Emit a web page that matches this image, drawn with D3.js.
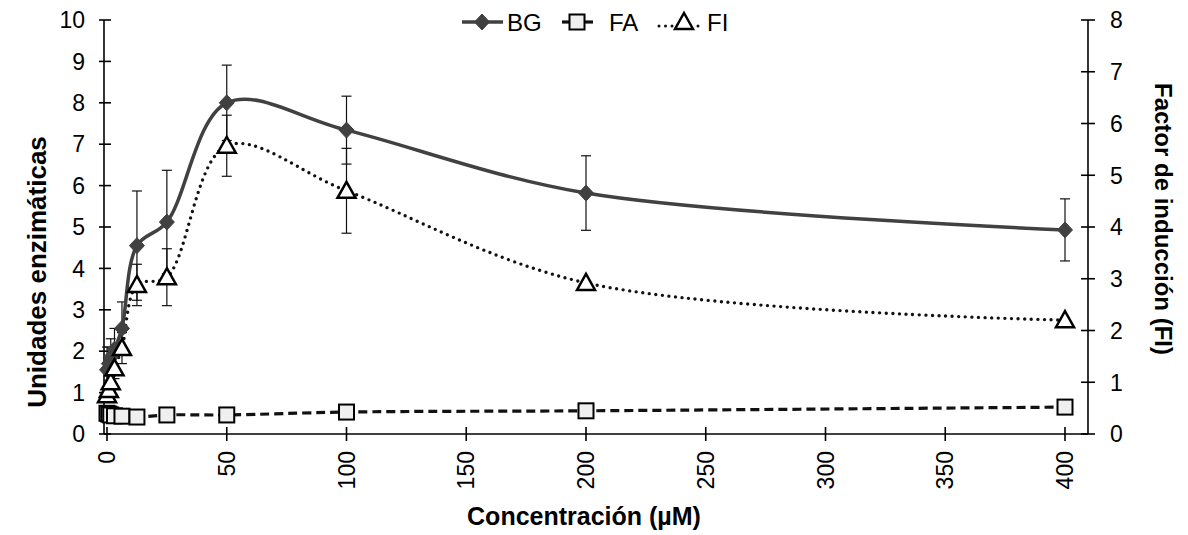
<!DOCTYPE html>
<html>
<head>
<meta charset="utf-8">
<script src="https://cdn.jsdelivr.net/npm/d3@7"></script>
<style>
  html, body { margin: 0; padding: 0; background: #fff; }
  svg { display: block; font-family: "Liberation Sans", Arial, sans-serif; }
</style>
</head>
<body>
<svg id="chart" width="1188" height="535"></svg>
<script>
// ---- data ----
const conc   = [0, 0.78, 1.56, 3.125, 6.25, 12.5, 25, 50, 100, 200, 400];
const bg     = [1.55, 1.7, 1.85, 2.05, 2.55, 4.55, 5.12, 8.0, 7.34, 5.82, 4.93];
const bgErr  = [0.55, 0.4, 0.45, 0.5, 0.64, 1.32, 1.25, 0.91, 0.82, 0.9, 0.75];
const fa     = [0.5, 0.48, 0.46, 0.44, 0.43, 0.41, 0.46, 0.46, 0.53, 0.56, 0.65];
const fi     = [0.75, 0.85, 1.0, 1.27, 1.66, 2.88, 3.03, 5.57, 4.7, 2.92, 2.2];
const fiErr  = [0.08, 0.1, 0.15, 0.2, 0.3, 0.4, 0.55, 0.59, 0.82, 0.04, 0.04];
const xTicks = [0, 50, 100, 150, 200, 250, 300, 350, 400];
const yLeftTicks  = [0,1,2,3,4,5,6,7,8,9,10];
const yRightTicks = [0,1,2,3,4,5,6,7,8];
const seriesNames = ["BG", "FA", "FI"];
const xTitle = "Concentración (µM)";
const yLeftTitle = "Unidades enzimáticas";
const yRightTitle = "Factor de inducción (FI)";

const svg = d3.select("#chart");
const axisLeftX = 104, axisRightX = 1088, axisBottomY = 434, axisTopY = 20;

const x = d3.scaleLinear().domain([0, 400]).range([107, 1065]);
const yL = d3.scaleLinear().domain([0, 10]).range([axisBottomY, axisTopY]);
const yR = d3.scaleLinear().domain([0, 8]).range([axisBottomY, axisTopY]);

const tickFont = 23, legendFont = 24;

// ---- axes ----
const ax = svg.append("g").attr("stroke", "#000").attr("stroke-width", 1.6);
ax.append("line").attr("x1", axisLeftX).attr("x2", axisRightX).attr("y1", axisBottomY).attr("y2", axisBottomY);
ax.append("line").attr("x1", axisLeftX).attr("x2", axisLeftX).attr("y1", axisTopY).attr("y2", axisBottomY);
ax.append("line").attr("x1", axisRightX).attr("x2", axisRightX).attr("y1", axisTopY).attr("y2", axisBottomY);

xTicks.forEach(t => {
  ax.append("line").attr("x1", x(t)).attr("x2", x(t)).attr("y1", axisBottomY - 7).attr("y2", axisBottomY + 7);
  svg.append("text")
    .attr("transform", `translate(${x(t)},451) rotate(-90)`)
    .attr("text-anchor", "end").attr("dy", "0.35em")
    .attr("font-size", tickFont).attr("fill", "#000").text(t);
});
yLeftTicks.forEach(t => {
  ax.append("line").attr("x1", axisLeftX - 5).attr("x2", axisLeftX + 7).attr("y1", yL(t)).attr("y2", yL(t));
  svg.append("text").attr("x", 85).attr("y", yL(t)).attr("dy", "0.36em")
    .attr("text-anchor", "end").attr("font-size", tickFont).text(t);
});
yRightTicks.forEach(t => {
  ax.append("line").attr("x1", axisRightX - 7).attr("x2", axisRightX + 7).attr("y1", yR(t)).attr("y2", yR(t));
  svg.append("text").attr("x", 1110).attr("y", yR(t)).attr("dy", "0.36em")
    .attr("text-anchor", "start").attr("font-size", tickFont).text(t);
});

// titles
svg.append("text").attr("x", 584).attr("y", 525).attr("text-anchor", "middle")
  .attr("font-size", 25).attr("font-weight", "bold").text(xTitle);
svg.append("text").attr("transform", "translate(46,272) rotate(-90)").attr("text-anchor", "middle")
  .attr("font-size", 26).attr("font-weight", "bold").text(yLeftTitle);
svg.append("text").attr("transform", "translate(1155,219) rotate(90)").attr("text-anchor", "middle")
  .attr("font-size", 24).attr("font-weight", "bold").text(yRightTitle);

// ---- series data ----
const bgPts = conc.map((c, i) => ({ x: c, y: bg[i], e: bgErr[i] }));
const faPts = conc.map((c, i) => ({ x: c, y: fa[i] }));
const fiPts = conc.map((c, i) => ({ x: c, y: fi[i], e: fiErr[i] }));

// error bars
function errBars(pts, ys) {
  const g = svg.append("g").attr("stroke", "#111").attr("stroke-width", 1.2);
  pts.forEach(p => {
    const y1 = ys(p.y + p.e), y2 = ys(p.y - p.e), cx = x(p.x);
    g.append("line").attr("x1", cx).attr("x2", cx).attr("y1", y1).attr("y2", y2);
    g.append("line").attr("x1", cx - 5).attr("x2", cx + 5).attr("y1", y1).attr("y2", y1);
    g.append("line").attr("x1", cx - 5).attr("x2", cx + 5).attr("y1", y2).attr("y2", y2);
  });
}
errBars(bgPts, yL);
errBars(fiPts, yR);

// lines
const curve = d3.curveCatmullRom.alpha(0.5);
const lineL = d3.line().x(d => x(d.x)).y(d => yL(d.y)).curve(curve);
const lineR = d3.line().x(d => x(d.x)).y(d => yR(d.y)).curve(curve);

svg.append("path").datum(bgPts).attr("d", lineL).attr("fill", "none")
  .attr("stroke", "#414141").attr("stroke-width", 3.5);
svg.append("path").datum(faPts).attr("d", lineL).attr("fill", "none")
  .attr("stroke", "#111").attr("stroke-width", 3.2).attr("stroke-dasharray", "9,5");
svg.append("path").datum(fiPts).attr("d", lineR).attr("fill", "none")
  .attr("stroke", "#111").attr("stroke-width", 3.4).attr("stroke-linecap", "round")
  .attr("stroke-dasharray", "0,6.6");

// markers
function diamond(g, cx, cy) {
  g.append("path").attr("d", `M${cx},${cy-8}L${cx+7.5},${cy}L${cx},${cy+8}L${cx-7.5},${cy}Z`)
    .attr("fill", "#414141").attr("stroke", "#414141").attr("stroke-width", 1);
}
function square(g, cx, cy) {
  g.append("rect").attr("x", cx - 7.5).attr("y", cy - 7.5).attr("width", 15).attr("height", 15)
    .attr("fill", "#efefef").attr("stroke", "#000").attr("stroke-width", 2);
}
function triangle(g, cx, cy) {
  g.append("path").attr("d", `M${cx},${cy-9}L${cx+9},${cy+7}L${cx-9},${cy+7}Z`)
    .attr("fill", "#fff").attr("stroke", "#000").attr("stroke-width", 2.5).attr("stroke-linejoin", "miter");
}
const mk = svg.append("g");
bgPts.forEach(p => diamond(mk, x(p.x), yL(p.y)));
faPts.forEach(p => square(mk, x(p.x), yL(p.y)));
fiPts.forEach(p => triangle(mk, x(p.x), yR(p.y)));

// ---- legend ----
const lg = svg.append("g");
const ly = 22;
lg.append("line").attr("x1", 462).attr("x2", 503).attr("y1", ly).attr("y2", ly)
  .attr("stroke", "#414141").attr("stroke-width", 3.5);
diamond(lg, 482, ly);
lg.append("text").attr("x", 507).attr("y", ly).attr("dy", "0.36em").attr("font-size", legendFont).text(seriesNames[0]);
lg.append("line").attr("x1", 562).attr("x2", 593).attr("y1", ly).attr("y2", ly)
  .attr("stroke", "#111").attr("stroke-width", 3.2);
square(lg, 577, ly);
lg.append("text").attr("x", 609).attr("y", ly).attr("dy", "0.36em").attr("font-size", legendFont).text(seriesNames[1]);
lg.append("line").attr("x1", 659).attr("x2", 704).attr("y1", ly + 4).attr("y2", ly + 4)
  .attr("stroke", "#111").attr("stroke-width", 3).attr("stroke-linecap", "round").attr("stroke-dasharray", "0,6.5");
lg.append("rect").attr("x", 675).attr("y", ly - 10).attr("width", 18).attr("height", 20).attr("fill", "#fff");
triangle(lg, 684, ly);
lg.append("text").attr("x", 707).attr("y", ly).attr("dy", "0.36em").attr("font-size", legendFont).text(seriesNames[2]);
</script>
</body>
</html>
